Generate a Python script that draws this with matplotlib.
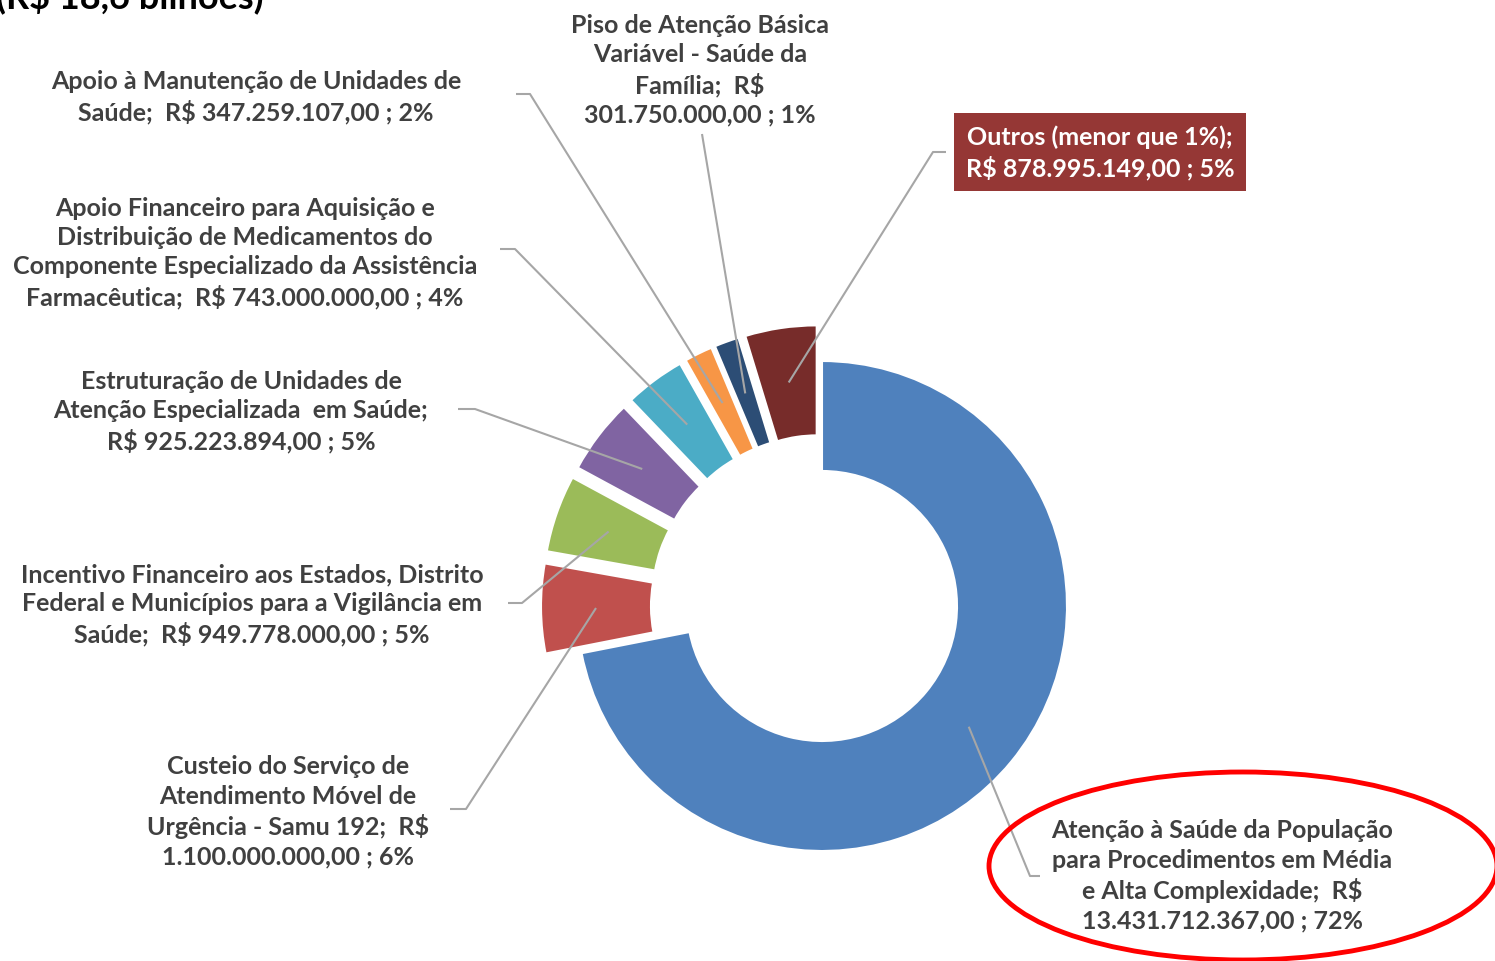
import numpy as np
import matplotlib.pyplot as plt
from matplotlib.patches import Ellipse

plt.rcParams['font.family'] = ['Lato', 'DejaVu Sans']

# =========================================================
# DATA
# =========================================================

labels = [
    "Atenção à Saúde da População\npara Procedimentos em Média\ne Alta Complexidade;  R$\n13.431.712.367,00 ; 72%",
    "Custeio do Serviço de\nAtendimento Móvel de\nUrgência - Samu 192;  R$\n1.100.000.000,00 ; 6%",
    "Incentivo Financeiro aos Estados, Distrito\nFederal e Municípios para a Vigilância em\nSaúde;  R$ 949.778.000,00 ; 5%",
    "Estruturação de Unidades de\nAtenção Especializada  em Saúde;\nR$ 925.223.894,00 ; 5%",
    "Apoio Financeiro para Aquisição e\nDistribuição de Medicamentos do\nComponente Especializado da Assistência\nFarmacêutica;  R$ 743.000.000,00 ; 4%",
    "Apoio à Manutenção de Unidades de\nSaúde;  R$ 347.259.107,00 ; 2%",
    "Piso de Atenção Básica\nVariável - Saúde da\nFamília;  R$\n301.750.000,00 ; 1%",
    "Outros (menor que 1%);\nR$ 878.995.149,00 ; 5%",
]
values = [13431712367, 1100000000, 949778000, 925223894,
          743000000, 347259107, 301750000, 878995149]
colors = ["#4F81BD", "#C0504D", "#9BBB59", "#8064A2",
          "#4BACC6", "#F79646", "#2C4D75", "#772C2A"]

# =========================================================
# LAYOUT (pixels from top-left)
# =========================================================

W, H = 1495, 962
CENTER = (822, H - 607)
RADIUS = 245
RING = 110
EXPL = 36   # offset of the small slices, px

text_pos = [(1222, 876), (288, 812), (252, 605), (241, 412),
            (245, 253), (256, 97), (700, 70), (1100, 153)]
elbow_pos = [(1030, 877), (466, 810), (522, 604), (475, 410),
             (515, 250), (530, 95), (702, 135), (933, 153)]
end_pos = [(1040, 877), (450, 810), (508, 604), (458, 410),
           (500, 250), (516, 95), (702, 135), (946, 153)]

TXT = "#404040"
LINE = "#A6A6A6"
FS = 18
LS = 1.33

fig = plt.figure(figsize=(W / 100, H / 100), dpi=100)
ax = fig.add_axes([0, 0, 1, 1])

explode = [0] + [EXPL] * (len(values) - 1)
wedges, _ = ax.pie(values, colors=colors, explode=explode, startangle=90,
                   counterclock=False, center=CENTER, radius=RADIUS,
                   wedgeprops=dict(width=RING, edgecolor="white", linewidth=1.5),
                   frame=True)
ax.set_xlim(0, W)
ax.set_ylim(0, H)
ax.axis("off")

for i, w in enumerate(wedges):
    mid = np.deg2rad((w.theta1 + w.theta2) / 2)
    r = RADIUS - RING / 2
    ax0 = w.center[0] + r * np.cos(mid)
    ay0 = w.center[1] + r * np.sin(mid)
    ex, ey = elbow_pos[i]
    tx, ty = end_pos[i]
    ax.plot([ax0, ex, tx], [ay0, H - ey, H - ty], color=LINE, lw=1.5,
            solid_capstyle="butt", zorder=3)

    px, py = text_pos[i]
    if i == 7:
        ax.text(px, H - py, labels[i], ha="center", va="center", fontsize=FS,
                fontweight="bold", color="white", linespacing=LS,
                bbox=dict(boxstyle="square,pad=0.45", fc="#953735", ec="none"))
    else:
        ax.text(px, H - py, labels[i], ha="center", va="center", fontsize=FS,
                fontweight="bold", color=TXT, linespacing=LS)

# red highlight ring around the biggest slice label
ax.add_patch(Ellipse((1243, H - 867), 508, 188, fill=False,
                     edgecolor="#FF0000", lw=3.5, zorder=4))

# title, cut off by the top edge
ax.text(-4, H - 8, "(R$ 18,6 bilhões)", ha="left", va="baseline",
        fontsize=26, fontweight="bold", color="black")

fig.savefig("out.png", dpi=100)
